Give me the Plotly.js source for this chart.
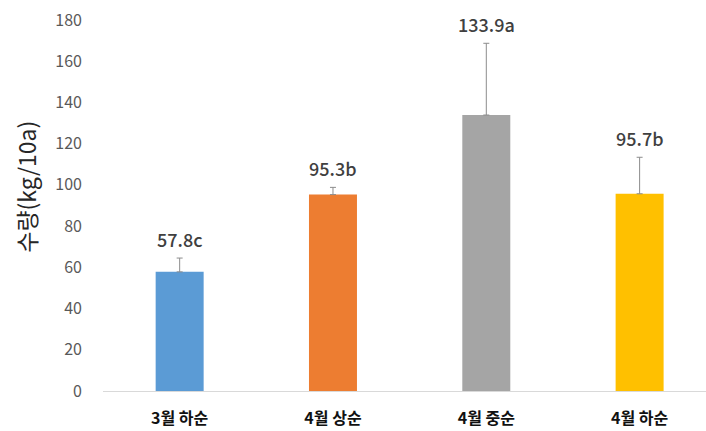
<!DOCTYPE html>
<html>
<head>
<meta charset="utf-8">
<script src="https://cdn.plot.ly/plotly-3.0.1.min.js"></script>
<style>html,body{margin:0;padding:0;background:#fff;}#chart{width:706px;height:431px;}</style>
</head>
<body>
<div id="chart"></div>
<script>
const categories = ["3월 하순", "4월 상순", "4월 중순", "4월 하순"];
const values = [57.8, 95.3, 133.9, 95.7];
const errorsPlus = [6.7, 3.5, 34.8, 17.7];
const letters = ["c", "b", "a", "b"];
const colors = ["#5B9BD5", "#ED7D31", "#A5A5A5", "#FFC000"];
const yTicks = [0, 20, 40, 60, 80, 100, 120, 140, 160, 180];

const font = "'Noto Sans CJK KR', 'Noto Sans', sans-serif";

const trace = {
  type: "bar",
  x: [0, 1, 2, 3],
  y: values,
  width: 0.313,
  marker: {color: colors},
  error_y: {type: "data", symmetric: false, array: errorsPlus, arrayminus: values.map(() => 0),
            color: "#8c8c8c", thickness: 1, width: 3},
  hoverinfo: "none"
};

const annotations = values.map((v, i) => ({
  x: i, y: v + errorsPlus[i], xref: "x", yref: "y",
  text: v.toFixed(1) + letters[i],
  showarrow: false, yanchor: "bottom", yshift: 4,
  font: {family: font, size: 18, color: "#404040", weight: 500}
}));
annotations.push({
  xref: "paper", yref: "paper", x: -0.128, y: 0.55, xanchor: "center", yanchor: "middle",
  text: "수량(kg/10a)", textangle: -90, showarrow: false,
  font: {family: font, size: 23, color: "#262626"}
});

const layout = {
  width: 706, height: 431,
  margin: {l: 103, r: 0, t: 20, b: 40},
  paper_bgcolor: "#fff", plot_bgcolor: "#fff",
  showlegend: false,
  xaxis: {
    range: [-0.5, 3.433], tickvals: [0, 1, 2, 3], ticktext: categories,
    showline: true, linecolor: "#d9d9d9", linewidth: 1, showgrid: false, zeroline: false,
    ticks: "", ticklabelstandoff: 13,
    tickfont: {family: font, size: 16, color: "#111", weight: 700}
  },
  yaxis: {
    range: [0, 180], tickvals: yTicks, showgrid: false, zeroline: false, showline: false,
    ticks: "", ticklabelstandoff: 20,
    tickfont: {family: font, size: 16, color: "#595959"}
  },
  annotations: annotations
};

Plotly.newPlot("chart", [trace], layout, {displayModeBar: false, staticPlot: true});
</script>
</body>
</html>
